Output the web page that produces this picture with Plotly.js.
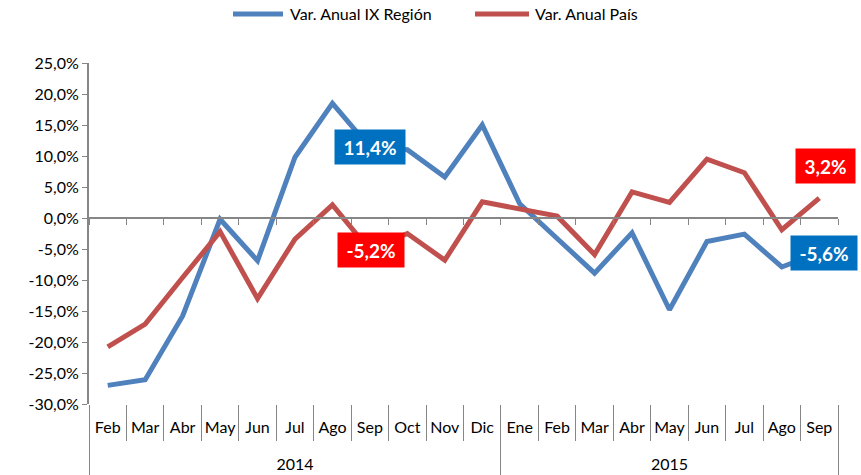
<!DOCTYPE html>
<html><head><meta charset="utf-8">
<script src="https://cdn.plot.ly/plotly-3.0.1.min.js"></script>
<style>body{margin:0;background:#fff}#chart{width:861px;height:475px}</style>
</head><body><div id="chart"></div>
<script>
const years = ['2014','2014','2014','2014','2014','2014','2014','2014','2014','2014','2014',
               '2015','2015','2015','2015','2015','2015','2015','2015','2015'];
const months = ['Feb','Mar','Abr','May','Jun','Jul','Ago','Sep','Oct','Nov','Dic',
                'Ene','Feb','Mar','Abr','May','Jun','Jul','Ago','Sep'];
const region = [-27.0,-26.1,-15.8,-0.2,-6.9,9.8,18.5,11.4,11.0,6.6,15.0,
                2.3,-3.3,-8.9,-2.4,-14.8,-3.8,-2.6,-7.9,-5.6];
const pais = [-20.8,-17.1,-9.6,-2.2,-13.0,-3.4,2.1,-5.2,-2.5,-6.8,2.6,
              1.5,0.3,-5.9,4.2,2.5,9.5,7.3,-1.9,3.2];
const seriesNames = ['Var. Anual IX Región','Var. Anual País'];
const yTicks = [25,20,15,10,5,0,-5,-10,-15,-20,-25,-30];

const FONT = 'Lato, "Open Sans", sans-serif';
const BLUE = '#4F81BD', RED = '#C0504D', AXIS = '#868686';
const W = 861, H = 475, ML = 89, MR = 23, MT = 63, MB = 71;
const PW = W - ML - MR, PH = H - MT - MB;
const px2x = p => (p - ML) / PW, px2y = p => (H - MB - p) / PH;

// category positions derived from the data
const idx = months.map((_, i) => i);
const N = months.length;
const bounds = Array.from({length: N + 1}, (_, i) => i - 0.5);
const yearList = [...new Set(years)];
const yearCenters = yearList.map(y => {
  const ii = idx.filter(i => years[i] === y);
  return (ii[0] + ii[ii.length - 1]) / 2;
});
const yearBounds = [-0.5].concat(yearList.map(y => {
  const ii = idx.filter(i => years[i] === y);
  return ii[ii.length - 1] + 0.5;
}));
const XR = [-0.5, N - 0.5];

const traces = [
  {x: idx, y: region, type:'scatter', mode:'lines', name: seriesNames[0],
   line:{color:BLUE, width:5}, hoverinfo:'skip', showlegend:false},
  {x: idx, y: pais, type:'scatter', mode:'lines', name: seriesNames[1],
   line:{color:RED, width:5}, hoverinfo:'skip', showlegend:false}
];
// invisible helper traces so the overlay axes are drawn
['x2','x3','x4','x5'].forEach(ax => traces.push(
  {x: XR, y: [0, 0], xaxis: ax, type:'scatter', mode:'lines', line:{width:0},
   opacity:0, showlegend:false, hoverinfo:'skip'}));

function fmt(v){ return v.toFixed(1).replace('.', ',') + '%'; }
const lbl = [
  {i:7,  v:region, bg:'#0070C0', w:60, xs:0, ys:0},
  {i:7,  v:pais,   bg:'#FF0000', w:56, xs:1, ys:0},
  {i:19, v:pais,   bg:'#FF0000', w:49, xs:6, ys:32},
  {i:19, v:region, bg:'#0070C0', w:56, xs:5, ys:0}
];
const annotations = lbl.map(a => ({
  x: a.i, y: a.v[a.i], xref:'x', yref:'y', text: fmt(a.v[a.i]), showarrow:false,
  bgcolor:a.bg, font:{family:FONT, size:19, color:'#fff', weight:'bold'},
  width:a.w, height:24, borderpad:5, xshift:a.xs, yshift:a.ys
}));

// legend drawn as line samples + text
const legendItems = [
  {name: seriesNames[0], color: BLUE, x0: 233, x1: 283, tx: 288},
  {name: seriesNames[1], color: RED,  x0: 475, x1: 529, tx: 533}
];
const LY = 14;
const shapes = legendItems.map(it => ({
  type:'line', xref:'paper', yref:'paper', x0:px2x(it.x0), x1:px2x(it.x1),
  y0:px2y(LY), y1:px2y(LY), line:{color:it.color, width:5}
}));
legendItems.forEach(it => annotations.push({
  xref:'paper', yref:'paper', x:px2x(it.tx), y:px2y(LY), xanchor:'left', yanchor:'middle',
  text: it.name, showarrow:false, font:{family:FONT, size:16, color:'#000'}
}));

const hidden = {showgrid:false, zeroline:false, showticklabels:false};
const layout = {
  width:W, height:H,
  margin:{l:ML, r:MR, t:MT, b:MB},
  paper_bgcolor:'#fff', plot_bgcolor:'#fff',
  font:{family:FONT, size:16, color:'#000'},
  showlegend:false,
  // month labels
  xaxis:{range:XR, tickvals:idx, ticktext:months, ticks:'', showline:false,
         showgrid:false, zeroline:false, ticklabelstandoff:12,
         tickfont:{family:FONT, size:16, color:'#000'}},
  // horizontal axis at 0 with boundary ticks
  xaxis2:Object.assign({overlaying:'x', anchor:'free', position:30/55, range:XR,
          tickvals:bounds, showline:true, linecolor:AXIS, linewidth:2,
          ticks:'outside', ticklen:6, tickcolor:AXIS, tickwidth:1}, hidden),
  // month boundary ticks at bottom
  xaxis3:Object.assign({overlaying:'x', anchor:'y', range:XR, tickvals:bounds,
          showline:false, ticks:'outside', ticklen:36, tickcolor:AXIS, tickwidth:1}, hidden),
  // year dividers
  xaxis4:Object.assign({overlaying:'x', anchor:'y', range:XR, tickvals:yearBounds,
          showline:false, ticks:'outside', ticklen:71, tickcolor:AXIS, tickwidth:1}, hidden),
  // year labels
  xaxis5:{overlaying:'x', anchor:'y', range:XR, tickvals:yearCenters, ticktext:yearList,
          ticks:'', showline:false, showgrid:false, zeroline:false, ticklabelstandoff:49,
          tickfont:{family:FONT, size:16, color:'#000'}},
  yaxis:{range:[-30,25], tickvals:yTicks, ticktext:yTicks.map(fmt),
         showline:true, linecolor:AXIS, linewidth:2, ticks:'outside', ticklen:5,
         tickcolor:AXIS, showgrid:false, zeroline:false,
         tickfont:{family:FONT, size:16, color:'#000'}},
  shapes: shapes,
  annotations: annotations
};
Plotly.newPlot('chart', traces, layout, {staticPlot:true});
</script></body></html>
